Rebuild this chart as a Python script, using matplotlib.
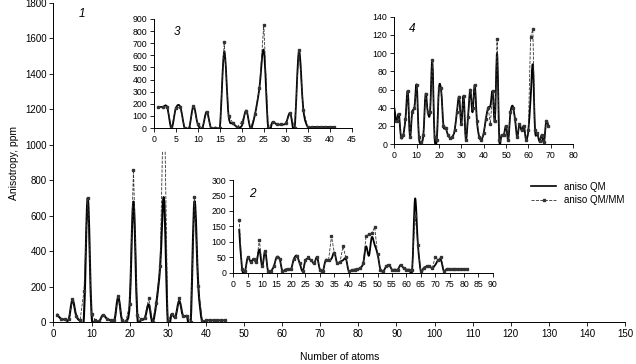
import matplotlib.pyplot as plt
import matplotlib.patches as patches
from matplotlib.path import Path
from matplotlib.lines import Line2D
import numpy as np

plt.rcParams['font.family'] = ['Liberation Sans', 'DejaVu Sans']

# Panel 1 (main axes)
x1 = list(range(1, 46))
qm1 = [43, 18, 15, 15, 125, 35, 10, 30, 700, 45, 10, 5, 40, 20, 10, 10, 140, 10, 5, 100,
       680, 40, 15, 25, 100, 0, 110, 315, 700, 5, 45, 30, 120, 35, 35, 0, 680, 205, 5, 10,
       10, 10, 10, 10, 10]
qmmm1 = [43, 18, 15, 15, 128, 35, 10, 175, 700, 45, 10, 5, 40, 20, 10, 10, 150, 10, 5, 100,
         860, 40, 15, 25, 135, 0, 110, 315, 1400, 5, 45, 30, 135, 35, 35, 0, 705, 205, 5, 10,
         10, 10, 10, 10, 10]

# Panel 3
x3 = list(range(1, 42))
qm3 = [175, 175, 175, 0, 165, 175, 0, 0, 180, 30, 0, 135, 0, 5, 5, 630, 100, 40, 10, 20,
       145, 0, 115, 330, 640, 0, 50, 30, 30, 40, 125, 0, 635, 150, 10, 10, 10, 10, 10, 10, 10]
qmmm3 = [175, 175, 175, 0, 165, 175, 0, 0, 180, 30, 0, 135, 0, 5, 5, 710, 100, 40, 10, 50,
         145, 0, 115, 330, 850, 0, 50, 30, 30, 40, 125, 0, 640, 150, 10, 10, 10, 10, 10, 10, 10]

# Panel 4
x4 = list(range(0, 70))
qm4 = [40, 25, 33, 8, 10, 28, 58, 8, 35, 40, 65, 8, 2, 10, 55, 35, 35, 92, 8, 5,
       62, 58, 20, 18, 10, 7, 8, 15, 35, 52, 22, 53, 5, 30, 60, 35, 65, 25, 8, 5,
       12, 28, 40, 42, 58, 25, 100, 5, 10, 10, 20, 5, 35, 42, 28, 8, 22, 15, 20, 5,
       15, 50, 87, 15, 12, 3, 10, 2, 25, 20]
qmmm4 = [25, 25, 33, 8, 10, 28, 58, 8, 35, 40, 65, 8, 2, 10, 55, 35, 35, 92, 8, 5,
         62, 62, 20, 18, 10, 7, 8, 15, 35, 52, 22, 53, 5, 30, 60, 40, 65, 25, 8, 5,
         12, 28, 40, 22, 58, 25, 115, 5, 10, 10, 20, 5, 35, 40, 28, 8, 22, 15, 20, 5,
         15, 118, 126, 15, 12, 3, 10, 2, 25, 20]

# Panel 2
x2 = list(range(2, 82))
qm2 = [140, 12, 5, 50, 35, 45, 35, 75, 20, 70, 5, 5, 20, 50, 45, 5, 10, 12, 12, 45,
       55, 30, 5, 40, 45, 40, 30, 50, 10, 5, 40, 40, 45, 65, 30, 35, 40, 45, 5, 8,
       10, 12, 15, 30, 85, 55, 115, 90, 60, 10, 5, 20, 25, 10, 10, 10, 25, 15, 10, 10,
       10, 240, 90, 5, 15, 20, 20, 15, 25, 40, 40, 5, 12, 12, 12, 12, 12, 12, 12, 12]
qmmm2 = [172, 12, 5, 50, 35, 45, 35, 105, 20, 70, 5, 5, 20, 50, 45, 5, 10, 12, 12, 45,
         55, 30, 5, 40, 50, 40, 30, 50, 10, 5, 40, 40, 118, 65, 30, 35, 85, 50, 5, 8,
         10, 12, 15, 30, 118, 125, 128, 148, 60, 10, 5, 20, 25, 10, 10, 10, 25, 15, 10, 10,
         10, 185, 90, 5, 15, 20, 20, 15, 52, 40, 52, 5, 12, 12, 12, 12, 12, 12, 12, 12]


# Excel-like smoothed line: cubic Bezier segments through the data points
def smooth_line(ax, x, y, lw):
    p = np.column_stack([x, y]).astype(float)
    n = len(p)
    verts = [p[0]]
    codes = [Path.MOVETO]
    for i in range(n - 1):
        p0 = p[max(i - 1, 0)]
        p3 = p[min(i + 2, n - 1)]
        c1 = p[i] + (p[i + 1] - p0) / 6.0
        c2 = p[i + 1] - (p3 - p[i]) / 6.0
        verts += [c1, c2, p[i + 1]]
        codes += [Path.CURVE4] * 3
    ax.add_patch(patches.PathPatch(Path(verts, codes), fill=False, edgecolor='black',
                                   linewidth=lw, capstyle='round', joinstyle='round',
                                   clip_on=True))


def draw_panel(ax, x, qm, qmmm, xmax, xstep, ymax, ystep, fs, lw):
    ax.plot(x, qmmm, color='#333333', linestyle='--', linewidth=0.6, marker='s',
            markersize=2.0)
    smooth_line(ax, x, qm, lw)
    ax.set_xlim(0, xmax)
    ax.set_ylim(0, ymax)
    ax.set_xticks(np.arange(0, xmax + 1, xstep))
    ax.set_yticks(np.arange(0, ymax + 1, ystep))
    ax.tick_params(labelsize=fs, length=3, width=0.6, direction='out', pad=2)
    for s in ['top', 'right']:
        ax.spines[s].set_visible(False)
    for s in ['left', 'bottom']:
        ax.spines[s].set_linewidth(0.7)


fig = plt.figure(figsize=(6.36, 3.64), dpi=100)

ax1 = fig.add_axes([0.084, 0.115, 0.899, 0.877])
ax1.set_zorder(0)
draw_panel(ax1, x1, qm1, qmmm1, 150, 10, 1800, 200, 7, 1.5)
ax1.set_ylabel('Anisotropy, ppm', fontsize=7.5, labelpad=4)
ax1.set_xlabel('Number of atoms', fontsize=7.5, labelpad=9)
ax1.text(0.044, 0.955, '1', transform=ax1.transAxes, fontsize=8.5, style='italic')
legend_handles = [Line2D([], [], color='black', linewidth=1.2),
                  Line2D([], [], color='#333333', linestyle='--', linewidth=0.6,
                         marker='s', markersize=2.0)]
ax1.legend(legend_handles, ['aniso QM', 'aniso QM/MM'], loc='upper left',
           bbox_to_anchor=(0.827, 0.455), fontsize=7, frameon=False,
           handlelength=2.6, labelspacing=0.35, borderpad=0)

# white area behind inset 3 (hides the off-scale peak of panel 1)
fig.patches.append(patches.Rectangle((0.215, 0.585), 0.345, 0.415, transform=fig.transFigure,
                                     facecolor='white', edgecolor='none', zorder=1))

ax3 = fig.add_axes([0.242, 0.648, 0.311, 0.300])
ax3.set_zorder(2)
draw_panel(ax3, x3, qm3, qmmm3, 45, 5, 900, 100, 6.3, 1.3)
ax3.text(0.1, 0.85, '3', transform=ax3.transAxes, fontsize=8.5, style='italic')

ax4 = fig.add_axes([0.620, 0.604, 0.281, 0.350])
ax4.set_zorder(2)
draw_panel(ax4, x4, qm4, qmmm4, 80, 10, 140, 20, 6.3, 1.3)
ax4.text(0.08, 0.88, '4', transform=ax4.transAxes, fontsize=8.5, style='italic')

ax2 = fig.add_axes([0.367, 0.251, 0.408, 0.254])
ax2.set_zorder(2)
draw_panel(ax2, x2, qm2, qmmm2, 90, 5, 300, 50, 6.3, 1.3)
ax2.text(0.06, 0.82, '2', transform=ax2.transAxes, fontsize=8.5, style='italic')

fig.savefig('out.png', dpi=100)
